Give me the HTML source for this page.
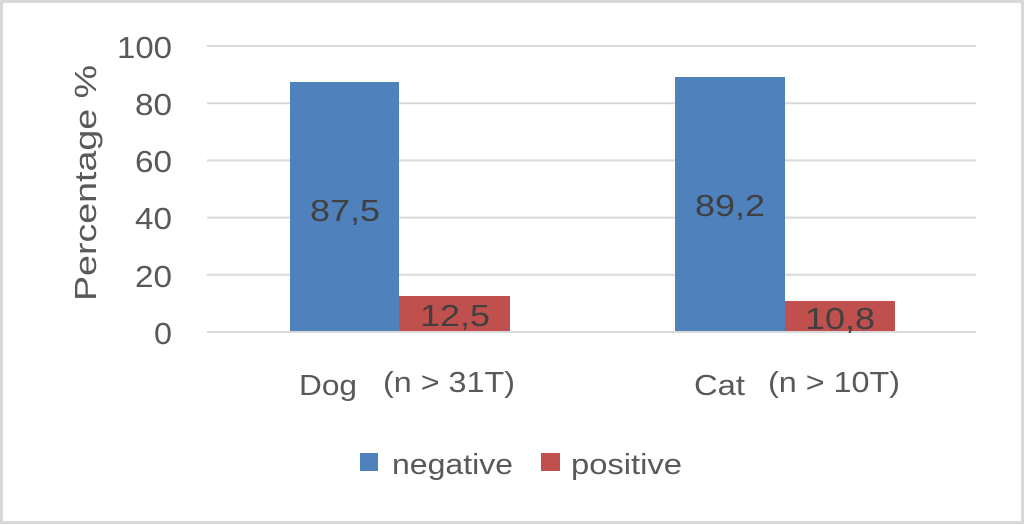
<!DOCTYPE html>
<html><head><meta charset="utf-8"><style>
html,body{margin:0;padding:0;background:#fff;}
svg{display:block;font-family:"Liberation Sans","DejaVu Sans",sans-serif;}
</style></head><body>
<svg width="1024" height="525" viewBox="0 0 1024 525" xmlns="http://www.w3.org/2000/svg">
<rect x="1.5" y="1.5" width="1021" height="521" fill="#fff" stroke="#d9d9d9" stroke-width="3"/>
<g stroke="#d9d9d9" stroke-width="2">
<line x1="207" y1="46" x2="976" y2="46"/>
<line x1="207" y1="103.2" x2="976" y2="103.2"/>
<line x1="207" y1="160.4" x2="976" y2="160.4"/>
<line x1="207" y1="217.6" x2="976" y2="217.6"/>
<line x1="207" y1="274.8" x2="976" y2="274.8"/>
</g>
<rect x="290" y="82" width="109" height="250" fill="#4f81bd"/>
<rect x="399" y="296" width="111" height="36" fill="#c0504d"/>
<rect x="675" y="77" width="110" height="255" fill="#4f81bd"/>
<rect x="785" y="301" width="110" height="31" fill="#c0504d"/>
<line x1="207" y1="332" x2="976" y2="332" stroke="#d9d9d9" stroke-width="2"/>
<g fill="#595959" font-size="31" text-anchor="end" lengthAdjust="spacingAndGlyphs">
<text x="172" y="58" textLength="55" lengthAdjust="spacingAndGlyphs">100</text>
<text x="172" y="115" textLength="37" lengthAdjust="spacingAndGlyphs">80</text>
<text x="172" y="172" textLength="37" lengthAdjust="spacingAndGlyphs">60</text>
<text x="172" y="229" textLength="37" lengthAdjust="spacingAndGlyphs">40</text>
<text x="172" y="287" textLength="37" lengthAdjust="spacingAndGlyphs">20</text>
<text x="172" y="344" textLength="18" lengthAdjust="spacingAndGlyphs">0</text>
</g>
<text transform="translate(96,183) rotate(-90)" text-anchor="middle" fill="#595959" font-size="31" textLength="236" lengthAdjust="spacingAndGlyphs">Percentage %</text>
<g fill="#404040" font-size="31">
<text x="310" y="221" textLength="70" lengthAdjust="spacingAndGlyphs">87,5</text>
<text x="420" y="326" textLength="70" lengthAdjust="spacingAndGlyphs">12,5</text>
<text x="695" y="216" textLength="70" lengthAdjust="spacingAndGlyphs">89,2</text>
<text x="805" y="329" textLength="70" lengthAdjust="spacingAndGlyphs">10,8</text>
</g>
<g fill="#595959" font-size="29">
<text x="299" y="395" textLength="58" lengthAdjust="spacingAndGlyphs">Dog</text>
<text x="383" y="392" textLength="132" lengthAdjust="spacingAndGlyphs">(n &gt; 31T)</text>
<text x="694" y="395" textLength="51" lengthAdjust="spacingAndGlyphs">Cat</text>
<text x="768" y="392" textLength="132" lengthAdjust="spacingAndGlyphs">(n &gt; 10T)</text>
<text x="392" y="474" textLength="121" lengthAdjust="spacingAndGlyphs">negative</text>
<text x="571" y="474" textLength="111" lengthAdjust="spacingAndGlyphs">positive</text>
</g>
<rect x="360" y="453" width="18" height="18" fill="#4f81bd"/>
<rect x="541" y="453" width="19" height="18" fill="#c0504d"/>
</svg>
</body></html>
